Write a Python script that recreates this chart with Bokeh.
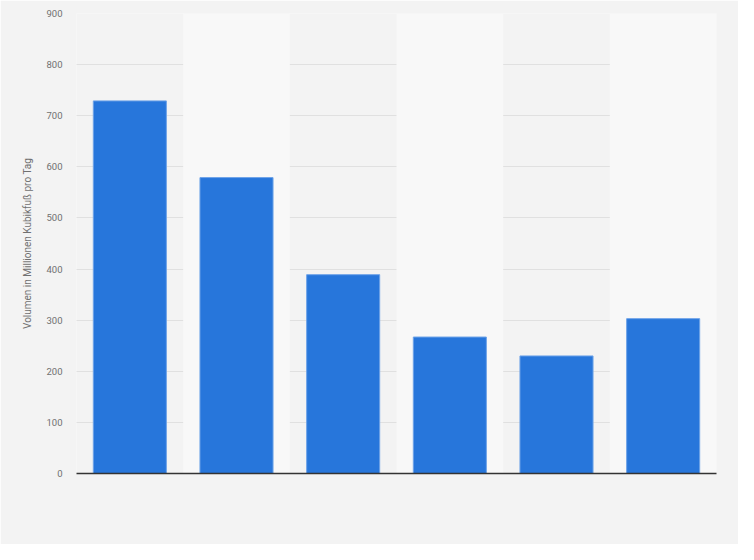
from bokeh.plotting import figure
from bokeh.models import Range1d
from bokeh.embed import file_html
from bokeh.resources import INLINE

categories = ["1", "2", "3", "4", "5", "6"]
values = [729, 579, 389, 267, 230, 303]
y_ticks = [0, 100, 200, 300, 400, 500, 600, 700, 800, 900]
y_label = "Volumen in Millionen Kubikfuß pro Tag"

p = figure(x_range=categories, y_range=Range1d(0, 900), width=738, height=544,
           output_backend="svg", toolbar_location=None,
           min_border_left=76, min_border_right=22, min_border_top=13, min_border_bottom=71)
p.background_fill_color = "#f3f3f3"
p.border_fill_color = "#f3f3f3"
p.outline_line_color = None

# alternating column bands
band_cats = categories[1::2]
p.vbar(x=band_cats, width=1.0, bottom=0, top=p.y_range.end, fill_color="#f8f8f8", line_color=None)

p.vbar(x=categories, top=values, width=0.685, fill_color="#2776db",
       line_color="#6ea3e8", line_width=1)

p.xgrid.grid_line_color = None
p.ygrid.grid_line_color = "#cdcdcd"
p.ygrid.grid_line_dash = "1 1"
p.ygrid.grid_line_width = 1
p.ygrid.ticker = y_ticks

p.yaxis.ticker = y_ticks
p.yaxis.axis_line_color = None
p.yaxis.major_tick_line_color = None
p.yaxis.minor_tick_line_color = None
p.yaxis.major_label_text_color = "#707070"
p.yaxis.major_label_text_font = "Roboto"
p.yaxis.major_label_text_font_size = "9.5px"
p.yaxis.major_label_standoff = 8
p.yaxis.axis_label = y_label
p.yaxis.axis_label_text_font = "Roboto"
p.yaxis.axis_label_text_font_style = "normal"
p.yaxis.axis_label_text_font_size = "10px"
p.yaxis.axis_label_text_color = "#707070"
p.yaxis.axis_label_standoff = 10

p.xaxis.axis_line_color = "#333333"
p.xaxis.axis_line_width = 1.5
p.xaxis.major_tick_line_color = None
p.xaxis.minor_tick_line_color = None
p.xaxis.major_label_text_color = None

open("out.html", "w").write(file_html(p, INLINE))
